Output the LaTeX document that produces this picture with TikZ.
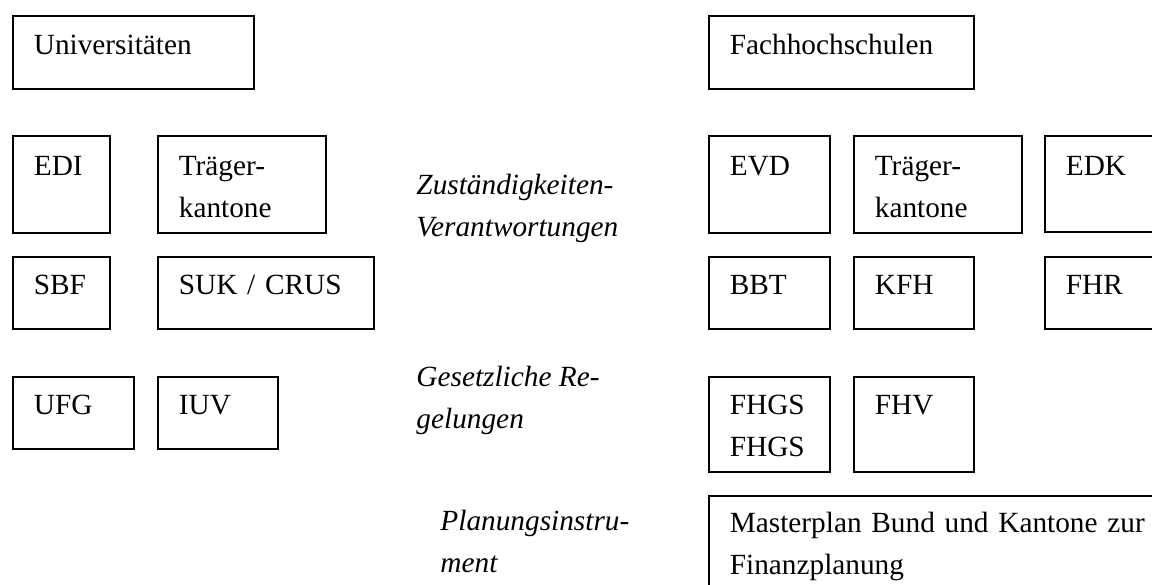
\documentclass[tikz,border=0pt]{standalone}
\usepackage{fontspec}
\setmainfont{Liberation Serif}
\usepackage{tikz}
\newlength\pxl
\setlength\pxl{0.4096pt}

\begin{document}
\begin{tikzpicture}[x=0.4096pt,y=-0.4096pt]
	\tikzstyle{kasten} = [draw, line width=0.7pt, anchor=north west, inner xsep=21*\pxl, inner ysep=0pt, align=left, text height=38*\pxl, font=\fontsize{12}{17}\selectfont];
	\tikzstyle{etikett} = [anchor=north west, inner sep=0pt, align=left, text height=30*\pxl, font=\fontsize{12}{17}\selectfont\itshape];
	
	\useasboundingbox (0,0) rectangle (1152,585);
	\clip (0,0) rectangle (1152,585);
	
	% Universitaeten
	\node[kasten, text width=81.5pt, text height=39*\pxl, text depth=34*\pxl] (uni) at (12,15) {Universitäten};
	\node[kasten, text width=22.5pt, text height=40*\pxl, text depth=57*\pxl] (edi) at (12,135) {EDI};
	\node[kasten, text width=51.6pt, text height=40*\pxl, text depth=57*\pxl] (traegeruni) at (157,135) {Träger-\\kantone};
	\node[kasten, text width=22.5pt, text depth=34*\pxl] (sbf) at (12,256) {SBF};
	\node[kasten, text width=71.3pt, text depth=34*\pxl] (suk) at (157,256) {SUK / CRUS};
	\node[kasten, text width=32.4pt, text depth=34*\pxl] (ufg) at (12,376) {UFG};
	\node[kasten, text width=31.9pt, text depth=34*\pxl] (iuv) at (157,376) {IUV};
	
	% Fachhochschulen
	\node[kasten, text width=91.3pt, text height=39*\pxl, text depth=34*\pxl] (fh) at (708,15) {Fachhochschulen};
	\node[kasten, text width=32.4pt, text height=40*\pxl, text depth=57*\pxl] (evd) at (708,135) {EVD};
	\node[kasten, text width=51.6pt, text height=40*\pxl, text depth=57*\pxl] (traegerfh) at (853,135) {Träger-\\kantone};
	\node[kasten, text width=40.1pt, text height=40*\pxl, text depth=56*\pxl] (edk) at (1044,135) {EDK};
	\node[kasten, text width=32.4pt, text depth=34*\pxl] (bbt) at (708,256) {BBT};
	\node[kasten, text width=31.9pt, text depth=34*\pxl] (kfh) at (853,256) {KFH};
	\node[kasten, text width=40.1pt, text depth=34*\pxl] (fhr) at (1044,256) {FHR};
	\node[kasten, text width=32.4pt, text depth=57*\pxl] (fhgs) at (708,376) {FHGS\\FHGS};
	\node[kasten, text width=31.9pt, text depth=57*\pxl] (fhv) at (853,376) {FHV};
	\node[kasten, text width=187.6pt, text height=37*\pxl, text depth=80*\pxl] (masterplan) at (708,495) {Masterplan Bund und Kantone zur\\Finanzplanung};
	
	% Ebenen
	\node[etikett] (zust) at (416,206) {Zuständigkeiten-\\Verantwortungen};
	\node[etikett] (gesetz) at (416,398) {Gesetzliche Re-\\gelungen};
	\node[etikett] (planung) at (440,542) {Planungsinstru-\\ment};
\end{tikzpicture}
\end{document}
